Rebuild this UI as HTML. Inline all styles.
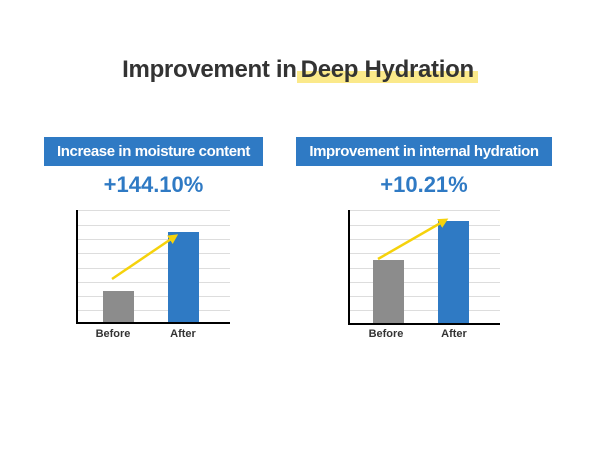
<!DOCTYPE html><html><head><style>
body{margin:0;width:600px;height:450px;background:#fff;font-family:"Liberation Sans",sans-serif;position:relative;overflow:hidden}
.a{position:absolute}
.t{left:0;width:600px;top:56px;text-align:center;font-size:24px;font-weight:bold;color:#333;letter-spacing:-0.3px}
.hl{background:linear-gradient(transparent 55%,#fbe98a 55%);padding:0 4px}
.box{background:#2f7ac4;color:#fff;font-weight:bold;font-size:15px;text-align:center;line-height:29px;height:29px;letter-spacing:-0.4px}
.p{color:#2f7ac4;font-weight:bold;font-size:22px;text-align:center}
</style></head><body>
<div class="a t">Improvement in<span class="hl">Deep Hydration</span></div>
<div class="a box" style="left:44px;top:137px;width:219px">Increase in moisture content</div>
<div class="a box" style="left:296px;top:137px;width:256px">Improvement in internal hydration</div>
<div class="a p" style="left:44px;top:172px;width:219px">+144.10%</div>
<div class="a p" style="left:296px;top:172px;width:256px">+10.21%</div>
<svg class="a" style="left:0;top:0" width="600" height="450">
<defs><marker id="m" markerWidth="4" markerHeight="4" refX="2" refY="2" orient="auto"><path d="M0,0 L4,2 L0,4 z" fill="#f5d20c"/></marker></defs>
<g stroke="#ddd" stroke-width="1">
<line x1="77" x2="230" y1="210.5" y2="210.5"/><line x1="77" x2="230" y1="225.5" y2="225.5"/><line x1="77" x2="230" y1="239.5" y2="239.5"/><line x1="77" x2="230" y1="253.5" y2="253.5"/><line x1="77" x2="230" y1="268.5" y2="268.5"/><line x1="77" x2="230" y1="282.5" y2="282.5"/><line x1="77" x2="230" y1="296.5" y2="296.5"/><line x1="77" x2="230" y1="310.5" y2="310.5"/>
<line x1="349" x2="500" y1="210.5" y2="210.5"/><line x1="349" x2="500" y1="225.5" y2="225.5"/><line x1="349" x2="500" y1="239.5" y2="239.5"/><line x1="349" x2="500" y1="253.5" y2="253.5"/><line x1="349" x2="500" y1="268.5" y2="268.5"/><line x1="349" x2="500" y1="282.5" y2="282.5"/><line x1="349" x2="500" y1="296.5" y2="296.5"/><line x1="349" x2="500" y1="310.5" y2="310.5"/>
</g>
<rect x="103" y="291" width="31" height="32" fill="#8c8c8c"/>
<rect x="168" y="232" width="31" height="91" fill="#2f7ac4"/>
<rect x="373" y="260" width="31" height="64" fill="#8c8c8c"/>
<rect x="438" y="221" width="31" height="103" fill="#2f7ac4"/>
<g stroke="#000" stroke-width="2" fill="none">
<polyline points="77,210 77,323 230,323"/><polyline points="349,210 349,324 500,324"/>
</g>
<g stroke="#f5d20c" stroke-width="2.5" marker-end="url(#m)">
<line x1="112" y1="279" x2="174" y2="237"/><line x1="378" y1="259" x2="444" y2="221"/>
</g>
<g font-size="11" font-weight="bold" fill="#333" text-anchor="middle">
<text x="113" y="337">Before</text><text x="183" y="337">After</text>
<text x="386" y="337">Before</text><text x="454" y="337">After</text>
</g>
</svg>
</body></html>
